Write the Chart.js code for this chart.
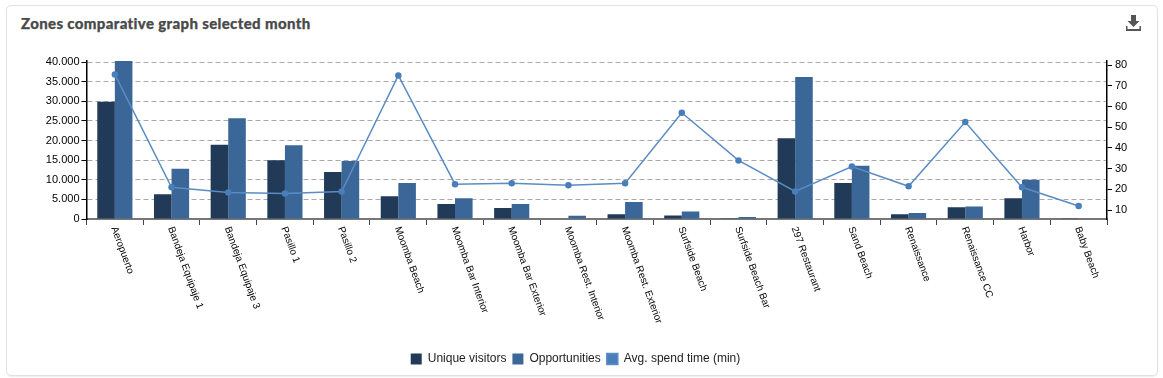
<!DOCTYPE html>
<html>
<head>
<meta charset="utf-8">
<style>
html,body{margin:0;padding:0;background:#fff;width:1163px;height:378px;overflow:hidden}
#card{position:absolute;left:6px;top:5px;width:1150px;height:369px;border:1px solid #e2e2e2;border-radius:5px;box-shadow:0 1px 1px #eee;box-sizing:content-box}
#title{position:absolute;left:21px;top:13px;font:900 15px/20px Lato,sans-serif;letter-spacing:.35px;-webkit-text-stroke:.25px #4a4a4a;color:#4a4a4a;white-space:nowrap}
#icon{position:absolute;left:1126px;top:15px}
canvas{position:absolute;left:0;top:0}
</style>
<script src="https://cdn.jsdelivr.net/npm/chart.js@4/dist/chart.umd.js"></script>
</head>
<body>
<div id="card"></div>
<div id="title">Zones comparative graph selected month</div>
<svg id="icon" width="15" height="16" viewBox="0 0 15 16"><path fill="#555" d="M5 0h5v6h3.5L7.5 12 1.500 6H5zM0 11h1.500v3h12v-3H15v5H0z"/></svg>
<canvas id="c" width="1163" height="378"></canvas>
<script>
const categories = ["Aeropuerto","Bandeja Equipaje 1","Bandeja Equipaje 3","Pasillo 1","Pasillo 2","Moomba Beach","Moomba Bar Interior","Moomba Bar Exterior","Moomba Rest. Interior","Moomba Rest. Exterior","Surfside Beach","Surfside Beach Bar","297 Restaurant","Sand Beach","Renaissance","Renaissance CC","Harbor","Baby Beach"];
const uniqueVisitors = [29900,6300,18900,15000,12000,5800,3800,2800,0,1200,900,200,20600,9200,1200,3000,5300,50];
const opportunities = [40260,12800,25700,18800,14800,9200,5300,3800,800,4300,1900,500,36200,13600,1500,3200,10000,150];
const avgSpendTime = [75.5,21,18.5,18,19,75,22.5,23,22,23,57,34,19,31,21.5,52.5,21,12];
const leftTicks = [0,5000,10000,15000,20000,25000,30000,35000,40000];
const rightTicks = [10,20,30,40,50,60,70,80];

const rotatedLabels = {
  id:'rotatedLabels',
  afterDraw(chart){
    const x = chart.scales.x, c = chart.ctx;
    c.save();
    c.font = '10px "Liberation Sans"';
    c.fillStyle = '#000';
    c.textAlign = 'left';
    c.textBaseline = 'middle';
    categories.forEach((t,i)=>{
      c.save();
      c.translate(x.getPixelForTick(i)-1, chart.chartArea.bottom+8);
      c.rotate(70*Math.PI/180);
      c.fillText(t,0,0);
      c.restore();
    });
    c.restore();
  }
};
const fmt = v => String(v).replace(/\B(?=(\d{3})+$)/g,'.');

new Chart(document.getElementById('c'),{
  type:'bar',
  data:{labels:categories,datasets:[
    {label:'Unique visitors',data:uniqueVisitors,backgroundColor:'#203a57',yAxisID:'y',order:1,barPercentage:1,categoryPercentage:0.62},
    {label:'Opportunities',data:opportunities,backgroundColor:'#3a6698',yAxisID:'y',order:1,barPercentage:1,categoryPercentage:0.62},
    {type:'line',label:'Avg. spend time (min)',data:avgSpendTime,yAxisID:'y2',order:0,borderColor:'#5b8cc4',backgroundColor:'#4a7ebb',pointBackgroundColor:'#4a7ebb',pointBorderColor:'#4a7ebb',borderWidth:1.5,pointRadius:2.5,tension:0}
  ]},
  options:{
    responsive:false,animation:false,
    layout:{padding:{left:6,right:18,top:61,bottom:3}},
    plugins:{
      tooltip:{enabled:false},
      legend:{position:'bottom',labels:{boxWidth:11,boxHeight:11,padding:6,color:'#222',font:{family:'"Liberation Sans"',size:12},sort:(a,b)=>a.datasetIndex-b.datasetIndex}}
    },
    scales:{
      x:{
        grid:{drawOnChartArea:false,color:'#444',tickLength:6,offset:true},
        border:{color:'#777',width:2},
        ticks:{display:false},
        afterFit(s){s.height=128;}
      },
      y:{
        position:'left',min:0,max:40260,
        afterBuildTicks(s){s.ticks=leftTicks.map(value=>({value}));},
        afterFit(s){s.width=80.5;},
        grid:{color:'#aaa',tickColor:'#000',tickLength:5,tickBorderDash:[]},
        border:{color:'#000',width:1.5,dash:[5,3]},
        ticks:{color:'#000',font:{family:'"Liberation Sans"',size:11},padding:2,callback:v=>fmt(v)}
      },
      y2:{
        position:'right',min:5.7,max:82,
        afterBuildTicks(s){s.ticks=rightTicks.map(value=>({value}));},
        afterFit(s){s.width=38;},
        grid:{drawOnChartArea:false,color:'#000',tickLength:5},
        border:{color:'#000',width:1.5},
        ticks:{color:'#000',font:{family:'"Liberation Sans"',size:11},padding:3}
      }
    }
  },
  plugins:[rotatedLabels]
});
</script>
</body>
</html>
